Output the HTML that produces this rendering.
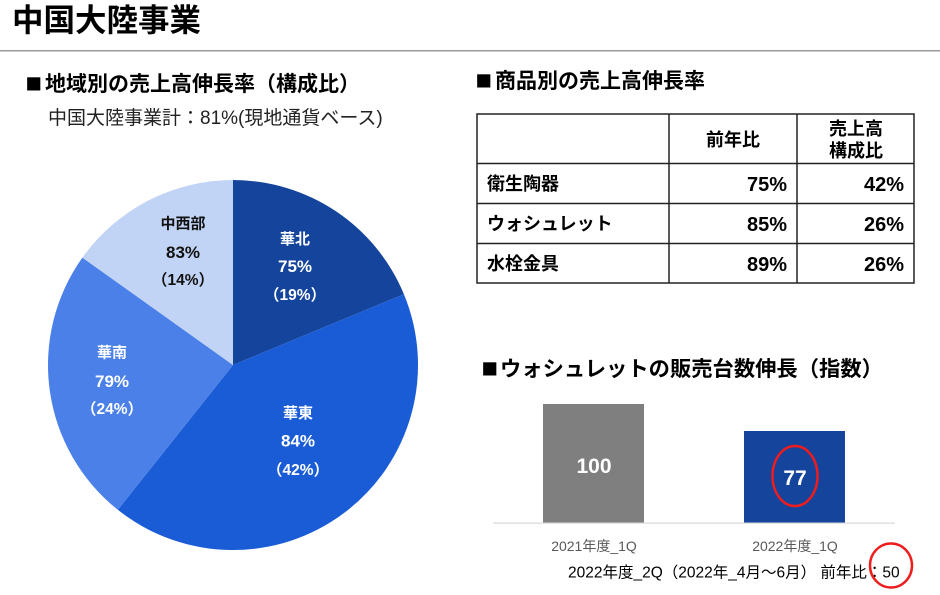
<!DOCTYPE html>
<html>
<head>
<meta charset="utf-8">
<style>
  html,body{margin:0;padding:0;background:#fff;}
  svg{display:block;}
  text{font-family:"Liberation Sans","Noto Sans CJK JP",sans-serif;}
  .b{font-weight:bold;}
  .sq{font-family:"Noto Sans CJK JP",sans-serif;}
</style>
</head>
<body>
<svg width="940" height="595" viewBox="0 0 940 595" xmlns="http://www.w3.org/2000/svg">
  <rect width="940" height="595" fill="#fff"/>
  <!-- Title -->
  <text x="12" y="31" font-size="31.5" class="b" fill="#000">中国大陸事業</text>
  <rect x="0" y="50" width="940" height="1.5" fill="#9a9a9a"/>

  <!-- Left section -->
  <text y="90" font-size="21" class="b" fill="#000"><tspan class="sq" x="25.5" font-size="16.5">■</tspan><tspan x="45" y="91">地域別の売上高伸長率（構成比）</tspan></text>
  <text x="48" y="124" font-size="19" fill="#222">中国大陸事業計：81%(現地通貨ベース)</text>

  <!-- Pie -->
  <path d="M233,365 L233,180 A185,185 0 0 1 403.9,294.2 Z" fill="#15449c"/>
  <path d="M233,365 L403.9,294.2 A185,185 0 0 1 117.8,509.8 Z" fill="#1a5cd6"/>
  <path d="M233,365 L117.8,509.8 A185,185 0 0 1 82.4,257.6 Z" fill="#4a80e8"/>
  <path d="M233,365 L82.4,257.6 A185,185 0 0 1 233,180 Z" fill="#c1d4f5"/>

  <g class="b" text-anchor="middle">
    <text x="295" y="244" font-size="15" fill="#fff" font-weight="bold">華北</text>
    <text x="295" y="272" font-size="17" fill="#fff" font-weight="bold">75%</text>
    <text x="295" y="300" font-size="15.5" fill="#fff" font-weight="bold">（19%）</text>

    <text x="183" y="228.5" font-size="15" fill="#111" font-weight="bold">中西部</text>
    <text x="183" y="258" font-size="17" fill="#111" font-weight="bold">83%</text>
    <text x="183" y="285" font-size="15.5" fill="#111" font-weight="bold">（14%）</text>

    <text x="112" y="357.5" font-size="15" fill="#fff" font-weight="bold">華南</text>
    <text x="112" y="387" font-size="17" fill="#fff" font-weight="bold">79%</text>
    <text x="112" y="414" font-size="15.5" fill="#fff" font-weight="bold">（24%）</text>

    <text x="298" y="418" font-size="15" fill="#fff" font-weight="bold">華東</text>
    <text x="298" y="446.7" font-size="17" fill="#fff" font-weight="bold">84%</text>
    <text x="298" y="475" font-size="15.5" fill="#fff" font-weight="bold">（42%）</text>
  </g>

  <!-- Right table section -->
  <text y="87" font-size="21" class="b" fill="#000"><tspan class="sq" x="475.5" font-size="16.5">■</tspan><tspan x="495" y="88">商品別の売上高伸長率</tspan></text>

  <g stroke="#222" stroke-width="1.5" fill="none">
    <rect x="477" y="114" width="437" height="169"/>
    <line x1="669" y1="114" x2="669" y2="283"/>
    <line x1="797" y1="114" x2="797" y2="283"/>
    <line x1="477" y1="163.5" x2="914" y2="163.5"/>
    <line x1="477" y1="203.5" x2="914" y2="203.5"/>
    <line x1="477" y1="243.5" x2="914" y2="243.5"/>
  </g>
  <g class="b" fill="#000">
    <text x="733" y="146" font-size="18" text-anchor="middle" font-weight="bold">前年比</text>
    <text x="856" y="135" font-size="18" text-anchor="middle" font-weight="bold">売上高</text>
    <text x="856" y="157" font-size="18" text-anchor="middle" font-weight="bold">構成比</text>

    <text x="487" y="190" font-size="18" font-weight="bold">衛生陶器</text>
    <text x="487" y="230" font-size="18" font-weight="bold">ウォシュレット</text>
    <text x="487" y="270" font-size="18" font-weight="bold">水栓金具</text>

    <text x="787" y="191" font-size="20" text-anchor="end" font-weight="bold">75%</text>
    <text x="787" y="231" font-size="20" text-anchor="end" font-weight="bold">85%</text>
    <text x="787" y="271" font-size="20" text-anchor="end" font-weight="bold">89%</text>
    <text x="904" y="191" font-size="20" text-anchor="end" font-weight="bold">42%</text>
    <text x="904" y="231" font-size="20" text-anchor="end" font-weight="bold">26%</text>
    <text x="904" y="271" font-size="20" text-anchor="end" font-weight="bold">26%</text>
  </g>

  <!-- Bar chart section -->
  <text y="375" font-size="21.3" class="b" fill="#000"><tspan class="sq" x="481.5" font-size="16.5">■</tspan><tspan x="500" y="376">ウォシュレットの販売台数伸長（指数）</tspan></text>

  <rect x="543" y="404" width="101" height="119" fill="#7f7f7f"/>
  <rect x="744" y="431" width="101" height="92" fill="#15449c"/>
  <rect x="493" y="522.5" width="402" height="1.2" fill="#d9d9d9"/>

  <text x="594" y="473" font-size="21" text-anchor="middle" fill="#fff" font-weight="bold">100</text>
  <text x="795" y="485" font-size="21" text-anchor="middle" fill="#fff" font-weight="bold">77</text>
  <ellipse cx="795" cy="476" rx="22.5" ry="30" fill="none" stroke="#ee1c1c" stroke-width="2.5"/>

  <text x="594" y="551" font-size="14" text-anchor="middle" fill="#595959">2021年度_1Q</text>
  <text x="795" y="551" font-size="14" text-anchor="middle" fill="#595959">2022年度_1Q</text>

  <text x="568" y="577.5" font-size="15.5" fill="#000">2022年度_2Q（2022年_4月～6月） 前年比：50</text>
  <ellipse cx="891" cy="565.5" rx="21" ry="22" fill="none" stroke="#ee1c1c" stroke-width="2.5"/>
</svg>
</body>
</html>
